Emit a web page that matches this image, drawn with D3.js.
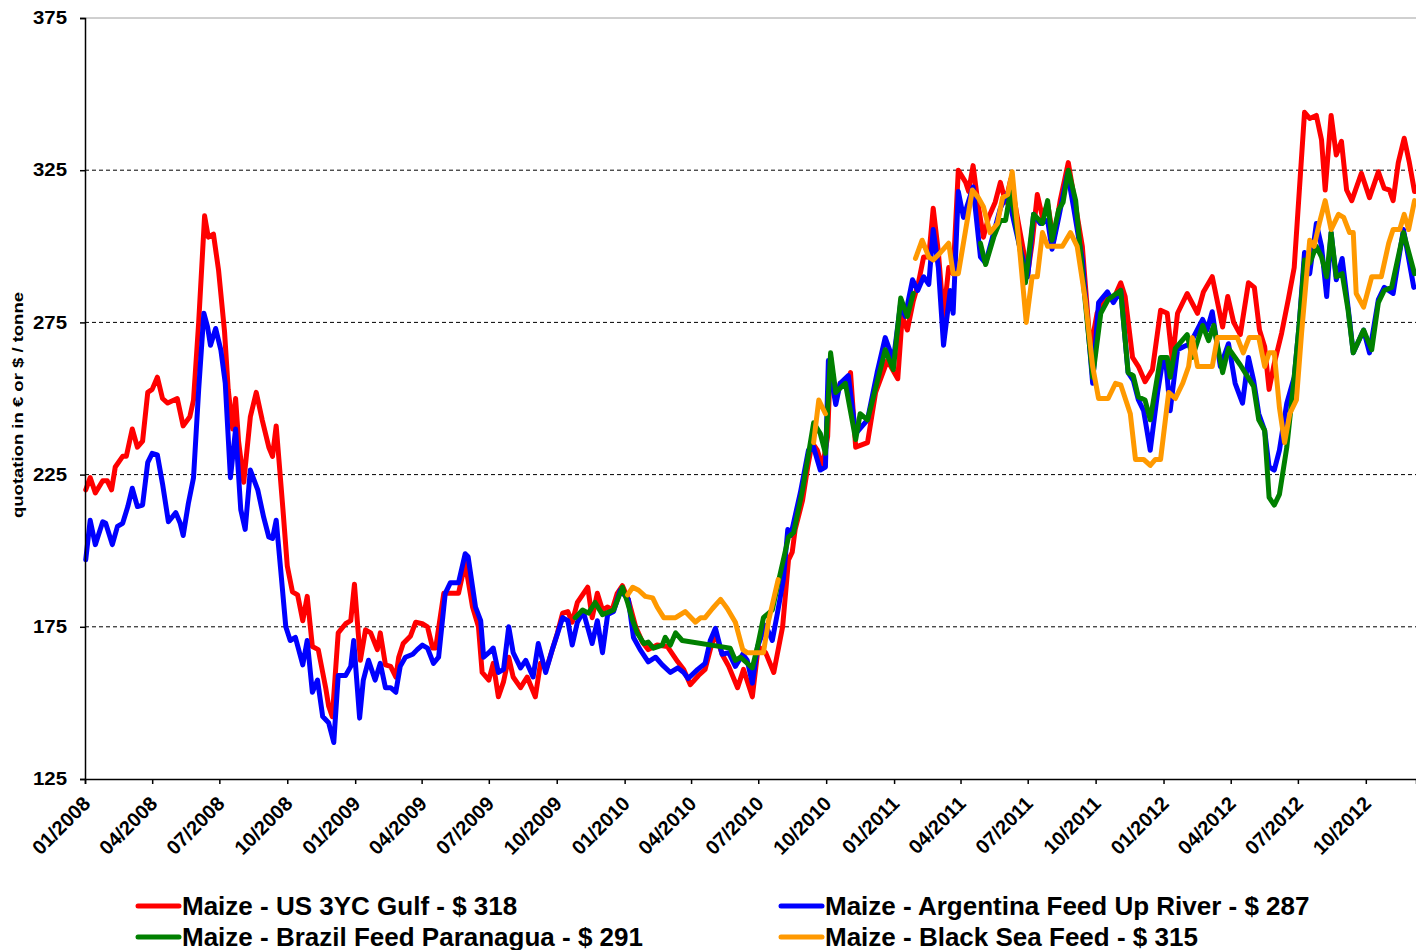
<!DOCTYPE html>
<html>
<head>
<meta charset="utf-8">
<script src="https://cdn.jsdelivr.net/npm/d3@7"></script>
<style>
  body { margin: 0; background: #fff; }
  svg { font-family: "Liberation Sans", Arial, sans-serif; }
</style>
</head>
<body>
<svg id="chart" width="1416" height="950"></svg>
<script>
// quotations, [days since 01/01/2008, $ per tonne]; null = no quotation
var usGulf = [[1,220],[7,224],[14,219],[24,223],[30,223],[36,220],[41,227.5],[51,231],[56,231],[64,240],[71,234],[78,236],[85,252],[91,253],[98,257],[105,250],[112,248.5],[125,250],[133,241],[142,244],[147,249.5],[154,275],[162,310],[167,303],[174,304],[181,292],[189,272],[194,253],[200,240],[204,250],[208,236],[215,222.5],[224,244],[232,252],[240,243],[249,234],[254,231],[259,241],[268,214],[274,195],[281,186.5],[288,185.5],[295,177],[301,185],[308,168.5],[316,167.5],[326,155],[330,149],[335,145.5],[343,173],[353,176],[360,177],[365,189],[373,164],[380,174],[387,173],[396,167.5],[400,173],[407,162.5],[414,162],[421,158.5],[425,165],[431,169.5],[441,172],[448,176.5],[457,176],[464,175],[471,168],[475,168],[486,186],[495,186],[506,186],[515,196],[525,181.5],[533,175],[538,160],[547,157.5],[553,163],[560,152],[567,157],[574,165],[580,158.5],[590,155],[599,158.5],[610,152],[617,163],[626,162],[640,173],[647,179.5],[654,180],[660,176.5],[667,183],[681,188],[687,178],[694,186],[701,180.5],[708,181.5],[714,180.5],[721,186],[728,188.5],[736,184],[746,175],[755,170],[763,167.5],[775,169],[789,168.5],[803,163.5],[811,161],[820,156],[831,159],[840,161],[847,167.5],[854,173],[863,166],[872,162],[884,155],[892,161],[904,152],[912,168.5],[922,166.5],[933,160],[945,175],[953,197],[958,199.5],[962,207],[972,216.5],[979,227.5],[985,235.5],[992,233],[999,227.5],[1006,237.5],[1010,263.5],[1017,249.5],[1023,255],[1033,255.5],[1037,258.5],[1044,234],[1060,235.5],[1071,252],[1087,262.5],[1101,256.5],[1107,277],[1114,272.5],[1122,282],[1129,288],[1136,296.5],[1143,296.5],[1149,312.5],[1156,298],[1163,277],[1170,293],[1176,291],[1183,325],[1193,321],[1197,318],[1203,326.5],[1210,313.5],[1217,303],[1224,309.5],[1233,314.5],[1240,321],[1247,314.5],[1254,322],[1263,309.5],[1277,291],[1283,301],[1290,317],[1297,309.5],[1304,314],[1312,302],[1321,315],[1332,327.5],[1342,313],[1351,300],[1362,266],[1371,278],[1382,283],[1393,282.5],[1403,288],[1409,283.5],[1419,263.5],[1427,260.5],[1436,255.5],[1446,259.5],[1457,279],[1466,278],[1473,262.5],[1480,278],[1493,284.5],[1507,278],[1515,285],[1527,290],[1541,273.5],[1548,283.5],[1556,275],[1565,271],[1576,288],[1584,286.5],[1591,272.5],[1598,267],[1604,253],[1611,261.5],[1621,271.5],[1630,282.5],[1638,293],[1645,318.5],[1652,344],[1659,342],[1668,343],[1675,335],[1680,318.5],[1688,343],[1695,330],[1702,334.5],[1709,318.5],[1716,315],[1729,324],[1740,316],[1752,324.5],[1760,319],[1767,318.5],[1772,315],[1779,327.5],[1787,335.5],[1794,327.5],[1801,318]];

var argentina = [[1,197],[7,210],[14,202],[24,209.5],[28,209],[37,202],[44,208],[51,209],[58,214.5],[64,220.5],[71,214.5],[78,215],[85,229],[91,232],[98,231.5],[105,222],[113,209.5],[123,212.5],[129,209],[133,205],[140,215.5],[147,224],[154,253],[161,278],[166,273.5],[170,267.5],[177,273],[184,266],[190,255],[197,224],[204,240],[211,213.5],[217,207],[224,226.5],[234,220],[242,211],[249,204.5],[254,204],[259,210],[265,194],[272,175],[278,170.5],[285,171.5],[295,162.5],[301,170.5],[308,153.5],[315,157.5],[322,145.5],[330,143.5],[337,137],[343,159],[353,159],[360,162],[364,170.5],[372,145],[377,157.5],[384,164],[393,157.5],[400,163],[407,155],[414,155],[421,153.5],[427,162],[434,165],[444,166],[450,167.5],[457,169],[464,168],[472,163],[479,165],[488,186],[495,189.5],[499,189.5],[506,189.5],[515,199],[519,198],[529,181.5],[536,177],[540,165],[547,166.5],[553,168],[560,160],[567,161],[574,175],[580,166.5],[590,161.5],[597,164],[607,158.5],[614,169.5],[624,160],[633,167.5],[647,178],[654,177],[660,169],[667,176.5],[675,180],[687,169.5],[694,177],[701,166.5],[708,179],[716,180],[725,187],[736,184],[743,171.5],[752,167.5],[763,163.5],[773,165],[782,162.5],[793,160],[803,161.5],[811,160],[817,158],[830,161],[840,163],[847,170.5],[854,174.5],[863,166],[872,166.5],[881,162],[891,166],[897,164],[904,156.5],[911,168.5],[922,175.5],[931,170.5],[938,179.5],[946,190.5],[952,207],[956,205],[969,219],[980,233],[987,234],[996,226.5],[1003,227.5],[1007,262.5],[1017,248],[1023,255],[1034,257.5],[1044,238.5],[1060,243],[1073,258.5],[1084,270],[1095,262.5],[1105,281.5],[1111,277],[1121,289],[1128,285.5],[1136,290],[1143,287.5],[1149,305.5],[1156,293],[1163,267.5],[1172,285.5],[1176,278],[1183,318],[1190,309.5],[1203,319.5],[1213,296.5],[1220,294.5],[1231,304.5],[1240,312.5],[1250,317.5],[1258,308.5],[1267,299],[1277,290],[1285,310.5],[1294,307.5],[1304,308.5],[1310,299],[1319,309.5],[1331,324],[1339,313],[1351,295.5],[1365,255],[1373,281.5],[1385,285],[1393,281.5],[1403,285.5],[1413,258.5],[1420,256],[1427,249.5],[1434,246],[1443,233],[1453,252],[1460,262.5],[1464,262.5],[1470,246],[1480,266],[1488,267],[1497,268],[1514,276],[1520,272.5],[1527,278.5],[1538,260.5],[1549,268],[1558,255],[1568,248.5],[1576,263.5],[1583,256],[1590,245],[1598,239.5],[1604,227.5],[1611,226.5],[1618,233],[1628,248.5],[1638,257],[1645,275],[1652,298],[1659,291],[1668,307.5],[1675,300],[1682,283.5],[1688,304.5],[1695,289],[1703,296],[1711,280],[1718,265],[1732,272.5],[1740,265],[1752,282.5],[1760,286.5],[1772,284.5],[1786,305.5],[1800,286.5]];

var brazil = [[664,178],[674,180.5],[682,179.5],[691,183],[701,179],[716,180.5],[728,188],[735,183],[742,177],[748,173],[757,169.5],[763,170],[770,168],[782,169],[786,171.5],[793,169],[800,173],[809,170.5],[874,168],[881,164],[888,165],[904,161.5],[911,168.5],[919,178],[931,180.5],[939,189.5],[953,204.5],[960,206],[972,220],[987,242],[996,238.5],[1003,232],[1010,265],[1017,252],[1030,255],[1044,236.5],[1050,245],[1060,243],[1068,250.5],[1084,266],[1095,259.5],[1105,283],[1114,277],[1122,284.5],[1125,null],[1213,301],[1220,294],[1231,303],[1240,308.5],[1247,308.5],[1254,318.5],[1263,304.5],[1274,288],[1285,310.5],[1297,307.5],[1304,315],[1310,302],[1319,312],[1325,314.5],[1332,325],[1342,315],[1352,289],[1365,257],[1376,278],[1386,282.5],[1403,285.5],[1413,258.5],[1420,257.5],[1427,250.5],[1436,249.5],[1443,243],[1457,263.5],[1466,263.5],[1470,257],[1477,266.5],[1493,271],[1500,263.5],[1514,274],[1522,269],[1529,274],[1541,258.5],[1549,266.5],[1565,261],[1583,254],[1590,243],[1598,239.5],[1604,217.5],[1611,215],[1618,218.5],[1628,234],[1638,257],[1645,275],[1652,295.5],[1659,294.5],[1668,300],[1675,296.5],[1682,290],[1688,304.5],[1695,290],[1703,291],[1711,279],[1718,265],[1732,272.5],[1743,266],[1752,281.5],[1760,285.5],[1770,286.5],[1786,304.5],[1801,291]];

var blackSea = [[735,185.5],[742,188],[750,187],[759,185],[769,184.5],[775,181.5],[784,178],[800,178],[813,180],[827,176.5],[834,178],[840,178],[850,181],[861,184],[870,181],[881,176.5],[891,167.5],[897,166.5],[919,166.5],[926,177],[939,190.5],[960,null],[987,235.5],[994,249.5],[1003,245],[1050,null],[1125,296],[1134,302],[1143,296.5],[1149,295.5],[1159,298],[1170,301],[1176,291],[1183,291],[1193,305.5],[1202,318.5],[1210,316],[1217,313],[1226,304.5],[1236,307.5],[1243,316],[1250,317],[1256,324.5],[1267,296.5],[1275,275],[1283,290],[1290,290],[1297,304.5],[1304,300],[1324,300],[1335,304.5],[1344,300],[1355,282.5],[1365,260.5],[1373,250],[1386,250],[1396,255],[1403,254.5],[1416,245],[1423,230],[1434,230],[1443,228],[1450,230],[1457,230],[1468,252],[1477,250],[1487,255],[1495,260.5],[1500,270],[1507,260.5],[1527,260.5],[1534,270],[1561,270],[1569,265],[1577,270],[1590,270],[1598,260.5],[1604,265],[1611,265],[1618,247],[1625,235.5],[1632,245],[1641,249.5],[1648,271.5],[1659,302],[1665,300],[1672,307.5],[1680,315],[1688,305.5],[1698,310.5],[1705,309.5],[1713,304.5],[1718,304.5],[1722,284.5],[1732,280],[1743,290],[1756,290],[1766,301],[1772,305.5],[1781,305.5],[1787,310.5],[1793,305.5],[1801,315]];

var seriesData = [usGulf, argentina, brazil, blackSea];
var seriesColors = ["#ff0000", "#0000ff", "#008000", "#ff9900"];
var seriesLabels = ["Maize - US 3YC Gulf - $ 318", "Maize - Argentina Feed Up River - $ 287",
                    "Maize - Brazil Feed Paranagua - $ 291", "Maize - Black Sea Feed - $ 315"];
var yTicks = [125, 175, 225, 275, 325, 375];
var lastDay = 1803;

var margin = { top: 18, right: 0, bottom: 171, left: 85 };
var width = 1416 - margin.left - margin.right;
var height = 950 - margin.top - margin.bottom;

var startDate = new Date(2008, 0, 1);
function toDate(day) { return d3.timeDay.offset(startDate, day); }

var svg = d3.select("#chart");
var g = svg.append("g")
  .attr("transform", "translate(" + margin.left + "," + margin.top + ")");

var x = d3.scaleTime().domain([startDate, toDate(lastDay)]).range([0, width]);
var y = d3.scaleLinear().domain([125, 375]).range([height, 0]);

// gridlines
g.selectAll("line.grid")
  .data(yTicks.slice(1))
  .enter().append("line")
  .attr("class", "grid")
  .attr("x1", 0).attr("x2", width)
  .attr("y1", function(d) { return y(d); })
  .attr("y2", function(d) { return y(d); })
  .attr("stroke", function(d) { return d == 375 ? "#a0a0a0" : "#000"; })
  .attr("stroke-width", 1)
  .attr("stroke-dasharray", function(d) { return d == 375 ? null : "4,3"; });

// lines
var line = d3.line()
  .defined(function(d) { return d[1] != null; })
  .x(function(d) { return x(toDate(d[0])); })
  .y(function(d) { return y(d[1]); });

g.selectAll("path.series")
  .data(seriesData)
  .enter().append("path")
  .attr("class", "series")
  .attr("fill", "none")
  .attr("stroke", function(d, i) { return seriesColors[i]; })
  .attr("stroke-width", 5)
  .attr("stroke-linejoin", "round")
  .attr("stroke-linecap", "round")
  .attr("d", line);

// axes
var yAxis = d3.axisLeft(y).tickValues(yTicks).tickSize(5).tickPadding(13);
var yg = g.append("g").attr("class", "y axis").call(yAxis);
yg.select(".domain").attr("stroke", "#000").attr("stroke-width", 1.5);
yg.selectAll("line").attr("stroke", "#000").attr("stroke-width", 1.5);
yg.selectAll("text")
  .attr("font-size", 18)
  .attr("font-weight", "bold")
  .attr("fill", "#000")
  .attr("font-family", "Liberation Sans, Arial, sans-serif")
  .attr("textLength", 34)
  .attr("lengthAdjust", "spacingAndGlyphs");

var xAxis = d3.axisBottom(x)
  .ticks(d3.timeMonth.every(3))
  .tickFormat(d3.timeFormat("%m/%Y"))
  .tickSize(5);
var xg = g.append("g").attr("class", "x axis")
  .attr("transform", "translate(0," + height + ")")
  .call(xAxis);
xg.select(".domain").attr("stroke", "#000").attr("stroke-width", 1.5);
xg.selectAll("line").attr("stroke", "#000").attr("stroke-width", 1.5);
xg.selectAll("text")
  .attr("font-size", 20)
  .attr("font-weight", "bold")
  .attr("fill", "#000")
  .attr("font-family", "Liberation Sans, Arial, sans-serif")
  .attr("text-anchor", "end")
  .attr("dy", null)
  .attr("y", 0)
  .attr("transform", "translate(6,26) rotate(-45)");

// y title
g.append("text")
  .attr("transform", "translate(" + (-62) + "," + (405 - margin.top) + ") rotate(-90)")
  .attr("text-anchor", "middle")
  .attr("font-size", 14)
  .attr("font-weight", "bold")
  .attr("textLength", 226)
  .attr("lengthAdjust", "spacingAndGlyphs")
  .text("quotation in € or $ / tonne");

// legend
var legendPos = [[138, 915], [781, 915], [138, 946], [781, 946]];
var legend = svg.selectAll("g.legend")
  .data(seriesLabels)
  .enter().append("g")
  .attr("class", "legend")
  .attr("transform", function(d, i) { return "translate(" + legendPos[i][0] + "," + legendPos[i][1] + ")"; });
legend.append("line")
  .attr("x1", 0).attr("x2", 41)
  .attr("y1", -9).attr("y2", -9)
  .attr("stroke", function(d, i) { return seriesColors[i]; })
  .attr("stroke-width", 5)
  .attr("stroke-linecap", "round");
legend.append("text")
  .attr("x", 44)
  .attr("font-size", 26)
  .attr("font-weight", "bold")
  .text(function(d) { return d; });
</script>
</body>
</html>
